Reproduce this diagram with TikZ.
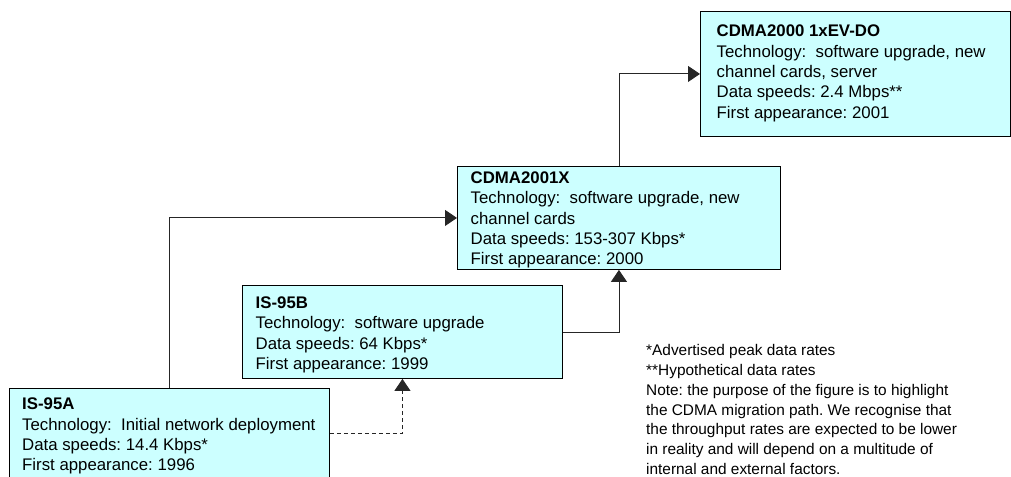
\documentclass[tikz,border=0pt]{standalone}
\usepackage{fontspec}
\setmainfont{Liberation Sans}
\usetikzlibrary{arrows.meta}
\definecolor{boxfill}{RGB}{204,255,255}
\begin{document}
\begin{tikzpicture}[x=1bp, y=-1bp,
  stagebox/.style={draw=black, line width=0.9bp, fill=boxfill, inner sep=0pt, anchor=north west},
  stagetext/.style={anchor=north west, inner sep=0pt, align=left, text=black,
    font=\fontsize{16.8bp}{20.3bp}\selectfont\frenchspacing},
  notetext/.style={anchor=north west, inner sep=0pt, align=left, text=black,
    font=\fontsize{15.4bp}{19.9bp}\selectfont\frenchspacing},
  link/.style={draw=black!85, line width=0.9bp, -{Triangle[length=12bp,width=16bp]}},
  dashlink/.style={link, dash pattern=on 4bp off 3bp}]
\useasboundingbox (0,0) rectangle (1011,477);

% stage boxes
\node[stagebox, minimum width=310bp, minimum height=125bp] (evdo) at (700,11) {};
\node[stagebox, minimum width=323bp, minimum height=103bp] (x1) at (457,166) {};
\node[stagebox, minimum width=320bp, minimum height=93bp] (isb) at (242,285) {};
\node[stagebox, minimum width=320bp, minimum height=90bp] (isa) at (9,388) {};

% box contents
\node[stagetext] (evdo-t) at (716.5,25) {\textbf{CDMA2000 1xEV-DO}\\
  Technology:~ software upgrade, new\\ channel cards, server\\
  Data speeds: 2.4 Mbps**\\ First appearance: 2001};
\node[stagetext] (x1-t) at (470.5,171.5) {\textbf{CDMA2001X}\\
  Technology:~ software upgrade, new\\ channel cards\\
  Data speeds: 153-307 Kbps*\\ First appearance: 2000};
\node[stagetext] (isb-t) at (255.5,296.5) {\textbf{IS-95B}\\
  Technology:~ software upgrade\\
  Data speeds: 64 Kbps*\\ First appearance: 1999};
\node[stagetext] (isa-t) at (22,398) {\textbf{IS-95A}\\
  Technology:~ Initial network deployment\\
  Data speeds: 14.4 Kbps*\\ First appearance: 1996};

% migration path
\draw[link] (isa.north) |- (x1.west);
\draw[dashlink] (isa.east) -| (isb.south);
\draw[link] (isb.east) -| (x1.south);
\draw[link] (x1.north) |- (evdo.west);

% footnotes
\node[notetext] (notes) at (646,344) {*Advertised peak data rates\\
  **Hypothetical data rates\\
  Note: the purpose of the figure is to highlight\\
  the CDMA migration path. We recognise that\\
  the throughput rates are expected to be lower\\
  in reality and will depend on a multitude of\\
  internal and external factors.};
\end{tikzpicture}
\end{document}
